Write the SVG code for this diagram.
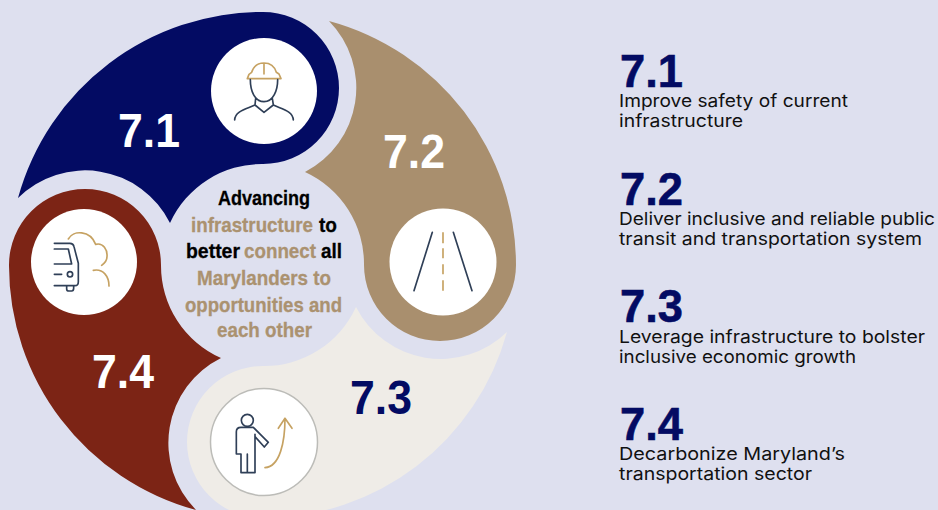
<svg xmlns="http://www.w3.org/2000/svg" width="938" height="510" viewBox="0 0 938 510">
<style>
.big{font-family:"Liberation Sans",Arial,sans-serif;font-weight:700;font-size:49px}
.num{font-family:"Liberation Sans",Arial,sans-serif;font-weight:700;font-size:47px;fill:#030b63;stroke:#030b63;stroke-width:.6}
.body{font-family:Inter,"DejaVu Sans",sans-serif;font-size:17.500px;fill:#111}
.ctr{font-family:"Liberation Sans Narrow","Liberation Sans",sans-serif;font-weight:700;font-size:21px;fill:#000;stroke:#000;stroke-width:.3}
.t{fill:#ab9270;stroke:#ab9270}
.ic{fill:none;stroke-width:5;stroke-linecap:round;stroke-linejoin:round}
.d{stroke:#2f3f57}
.g{stroke:#c6a262}
</style>
<rect width="938" height="510" fill="#dee0ef"/>
<g id="node-7-3">
<path d="M507 332A253 253 0 0 1 263 518A76 76 0 0 1 263 366A101 101 0 0 0 356 307A95 95 0 0 0 507 332Z" fill="#efece7"/>
<circle cx="264" cy="442" r="53.500" fill="#fff" stroke="#bcbcb8" stroke-width="1.500"/>
<g class="ic" transform="translate(205 385) scale(.3333)">
<circle class="d" cx="127" cy="106" r="18"/>
<path class="d" d="M150 148V263H108V207H94V140Q94 127 108 127H145L190 172L178 186L150 155M127 207V263"/>
<path class="g" d="M180 248C225 245 240 170 240 100M220 130L240 100L261 130"/>
</g>
<text class="big" x="350" y="414" textLength="62" lengthAdjust="spacingAndGlyphs" style="fill:#030b63">7.3</text>
</g>
<g id="node-7-4">
<path d="M196 510A253 253 0 0 1 9 265A76 76 0 0 1 161 265A101 101 0 0 0 221 358A95 95 0 0 0 196 510Z" fill="#7c2415"/>
<circle cx="84" cy="262" r="53" fill="#fff"/>
<g class="ic" transform="translate(25 205) scale(.3333)">
<path class="d" d="M88 115H135Q145 115 147 125L160 175V230Q160 242 150 242H88M88 132H130L140 177H88M88 208H110M125 242V252Q125 258 132 258H140Q146 258 146 250V242"/>
<circle class="d" cx="135" cy="208" r="8"/>
<path class="g" d="M130 102C145 75 195 75 212 118C235 112 248 135 246 155C246 165 238 175 230 181M205 196C235 190 252 215 252 243"/>
</g>
<text class="big" x="92" y="388" textLength="62" lengthAdjust="spacingAndGlyphs" fill="#fff">7.4</text>
</g>
<g id="node-7-1">
<path d="M18 198A253 253 0 0 1 263 12A76 76 0 0 1 263 164A101 101 0 0 0 170 223A95 95 0 0 0 18 198Z" fill="#030b63"/>
<circle cx="264" cy="91" r="53" fill="#fff"/>
<g class="ic" transform="translate(205 35) scale(.3333)">
<path class="g" d="M127 131H228L222 117L214 112C208 92 195 84 177 84C158 84 146 92 140 112L132 118ZM177 86V117"/>
<path class="d" d="M136 134C136 165 148 200 177 200C205 200 218 165 218 134M152 190L150 210L177 232L205 210L202 190M89 255C90 228 125 222 150 210M265 255C264 228 230 222 205 210"/>
</g>
<text class="big" x="118" y="147" textLength="62" lengthAdjust="spacingAndGlyphs" fill="#fff">7.1</text>
</g>
<g id="node-7-2">
<path d="M329 21A253 253 0 0 1 516 265A76 76 0 0 1 364 265A101 101 0 0 0 305 172A95 95 0 0 0 329 21Z" fill="#a98f6e"/>
<circle cx="443" cy="262" r="53.500" fill="#fff"/>
<g class="ic" transform="translate(385 205) scale(.3333)">
<path class="d" d="M142 82L87 257M205 82L261 257"/>
<path class="g" style="stroke-linecap:butt" d="M174 82V115M174 130V160M174 178V208M174 226V257"/>
</g>
<text class="big" x="383" y="168" textLength="62" lengthAdjust="spacingAndGlyphs" fill="#fff">7.2</text>
</g>
<g id="node-center">
<text class="ctr" x="218" y="205" textLength="92" lengthAdjust="spacingAndGlyphs">Advancing</text>
<text class="ctr" y="232"><tspan class="t" x="191" textLength="122" lengthAdjust="spacingAndGlyphs">infrastructure</tspan> <tspan x="319" textLength="18" lengthAdjust="spacingAndGlyphs">to</tspan></text>
<text class="ctr" y="258"><tspan x="186" textLength="54" lengthAdjust="spacingAndGlyphs">better</tspan> <tspan class="t" x="244" textLength="72" lengthAdjust="spacingAndGlyphs">connect</tspan> <tspan x="321" textLength="21" lengthAdjust="spacingAndGlyphs">all</tspan></text>
<text class="ctr t" x="197" y="285" textLength="134" lengthAdjust="spacingAndGlyphs">Marylanders to</text>
<text class="ctr t" x="185" y="312" textLength="157" lengthAdjust="spacingAndGlyphs">opportunities and</text>
<text class="ctr t" x="217" y="337" textLength="95" lengthAdjust="spacingAndGlyphs">each other</text>
</g>
<g id="legend-7-1">
<text class="num" x="620" y="87" textLength="63" lengthAdjust="spacingAndGlyphs">7.1</text>
<text class="body" x="619" y="107" textLength="229" lengthAdjust="spacingAndGlyphs">Improve safety of current</text>
<text class="body" x="619" y="127" textLength="124" lengthAdjust="spacingAndGlyphs">infrastructure</text>
</g>
<g id="legend-7-2">
<text class="num" x="620" y="205" textLength="63" lengthAdjust="spacingAndGlyphs">7.2</text>
<text class="body" x="619" y="225" textLength="316" lengthAdjust="spacingAndGlyphs">Deliver inclusive and reliable public</text>
<text class="body" x="619" y="245" textLength="303" lengthAdjust="spacingAndGlyphs">transit and transportation system</text>
</g>
<g id="legend-7-3">
<text class="num" x="620" y="322" textLength="63" lengthAdjust="spacingAndGlyphs">7.3</text>
<text class="body" x="619" y="343" textLength="306" lengthAdjust="spacingAndGlyphs">Leverage infrastructure to bolster</text>
<text class="body" x="619" y="363" textLength="237" lengthAdjust="spacingAndGlyphs">inclusive economic growth</text>
</g>
<g id="legend-7-4">
<text class="num" x="620" y="440" textLength="63" lengthAdjust="spacingAndGlyphs">7.4</text>
<text class="body" x="619" y="460" textLength="226" lengthAdjust="spacingAndGlyphs">Decarbonize Maryland’s</text>
<text class="body" x="619" y="480" textLength="193" lengthAdjust="spacingAndGlyphs">transportation sector</text>
</g>
</svg>
